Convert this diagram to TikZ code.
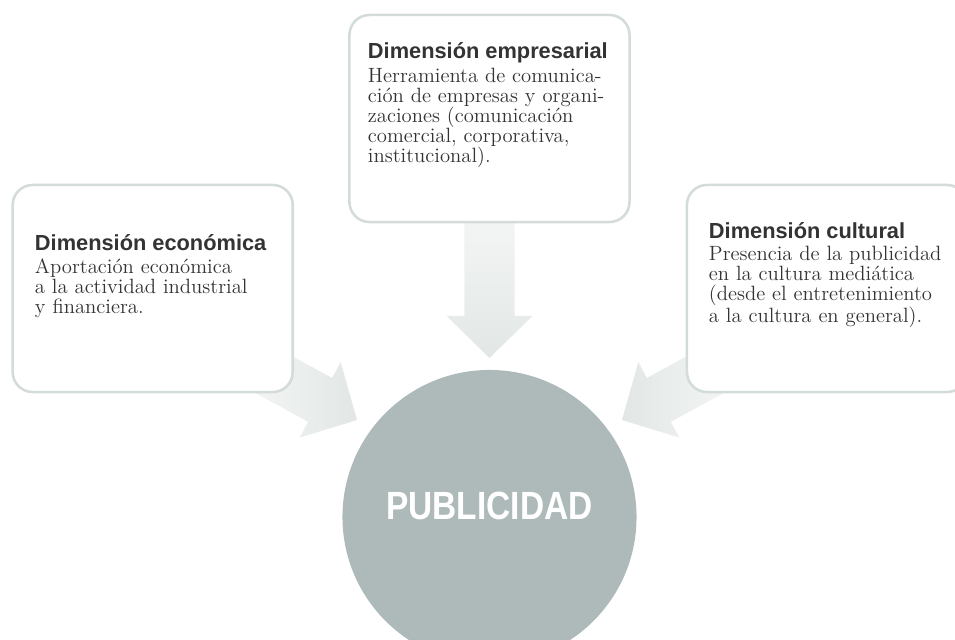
\documentclass[tikz,border=0pt]{standalone}
\usepackage{fontspec}
\newfontfamily\headfont{Liberation Sans}
\newfontfamily\pubfont[FakeStretch=0.85]{Liberation Sans}
\usetikzlibrary{calc,backgrounds}
\definecolor{pubgray}{HTML}{ADBAB9}
\definecolor{boxedge}{HTML}{D3DCDA}
\definecolor{arrowgray}{HTML}{E2E7E6}
\definecolor{headtext}{HTML}{333333}
\definecolor{bodytext}{HTML}{333333}
\tikzset{dimbox/.style={draw=boxedge, line width=1.8pt, fill=white,
        rounded corners=0.5cm, minimum width=7cm, minimum height=5.175cm},
    dimtitle/.style={anchor=base west, inner sep=0pt, text=headtext,
        font=\headfont\bfseries\fontsize{15.5}{18}\selectfont},
    dimbody/.style={anchor=base west, inner sep=0pt, text=bodytext,
        text width=6.5cm, align=left,
        font=\fontsize{14.7}{14.2}\selectfont\addfontfeatures{FakeBold=0.7}},
    pubnode/.style={circle, fill=pubgray, minimum size=7.35cm},
    pubtext/.style={text=white, font=\pubfont\bfseries\fontsize{28}{30}\selectfont},
    fat arrow/.style={to path={
        -- ($(\tikztostart)!0.625cm!90:(\tikztotarget)$)
        -- ($(\tikztotarget)!1.05cm!(\tikztostart)!0.625cm!-90:(\tikztostart)$)
        -- ($(\tikztotarget)!1.05cm!(\tikztostart)!1.075cm!-90:(\tikztostart)$)
        -- (\tikztotarget)
        -- ($(\tikztotarget)!1.05cm!(\tikztostart)!1.075cm!90:(\tikztostart)$)
        -- ($(\tikztotarget)!1.05cm!(\tikztostart)!0.625cm!90:(\tikztostart)$)
        -- ($(\tikztostart)!0.625cm!-90:(\tikztotarget)$)
        -- cycle}}}

\begin{document}
\begin{tikzpicture}[x=0.025cm, y=0.025cm]
    \useasboundingbox (0,0) rectangle (955,639);
    % centre
    \node[pubnode] (pub) at (489.5,122) {};
    \node[pubtext] (pubtxt) at ([yshift=0.275cm]pub.center) {PUBLICIDAD};
    % the three dimensions
    \node[dimbox] (empbox) at (489.5,520.5) {};
    \node[dimbox] (ecobox) at (152.7,350.5) {};
    \node[dimbox] (culbox) at (827,350.5) {};
    \node[dimtitle] (emptitle) at ([shift={(19.5,-45)}]empbox.north west)
      {Dimensión empresarial};
    \node[dimbody] (empbody) at ([shift={(0,-23.5)}]emptitle.base west)
      {Herramienta de comunica-\\ción de empresas y organi-\\zaciones (comunicación\\comercial, corporativa,\\institucional).};
    \node[dimtitle] (ecotitle) at ([shift={(23.3,-67)}]ecobox.north west)
      {Dimensión económica};
    \node[dimbody] (ecobody) at ([shift={(0,-23)}]ecotitle.base west)
      {Aportación económica\\a la actividad industrial\\y financiera.};
    \node[dimtitle] (cultitle) at ([shift={(23,-55)}]culbox.north west)
      {Dimensión cultural};
    \node[dimbody] (culbody) at ([shift={(0,-22)}]cultitle.base west)
      {Presencia de la publicidad\\en la cultura mediática\\(desde el entretenimiento\\a la cultura en general).};
    % arrows
    \coordinate (tipD) at ([shift={(0,159)}]pub.center);
    \coordinate (tipL) at ([shift={(-132.5,97)}]pub.center);
    \coordinate (tipR) at ([shift={(132.5,97)}]pub.center);
    \coordinate (tailL) at ($(tipL)+(151.4:200)$);
    \coordinate (tailR) at ($(tipR)+(28.6:200)$);
    \begin{scope}[on background layer]
      \path[fat arrow, top color=white, bottom color=arrowgray] (empbox.center) to (tipD);
      \path[fat arrow, left color=white, right color=arrowgray] (tailL) to (tipL);
      \path[fat arrow, left color=arrowgray, right color=white] (tailR) to (tipR);
    \end{scope}
\end{tikzpicture}
\end{document}
